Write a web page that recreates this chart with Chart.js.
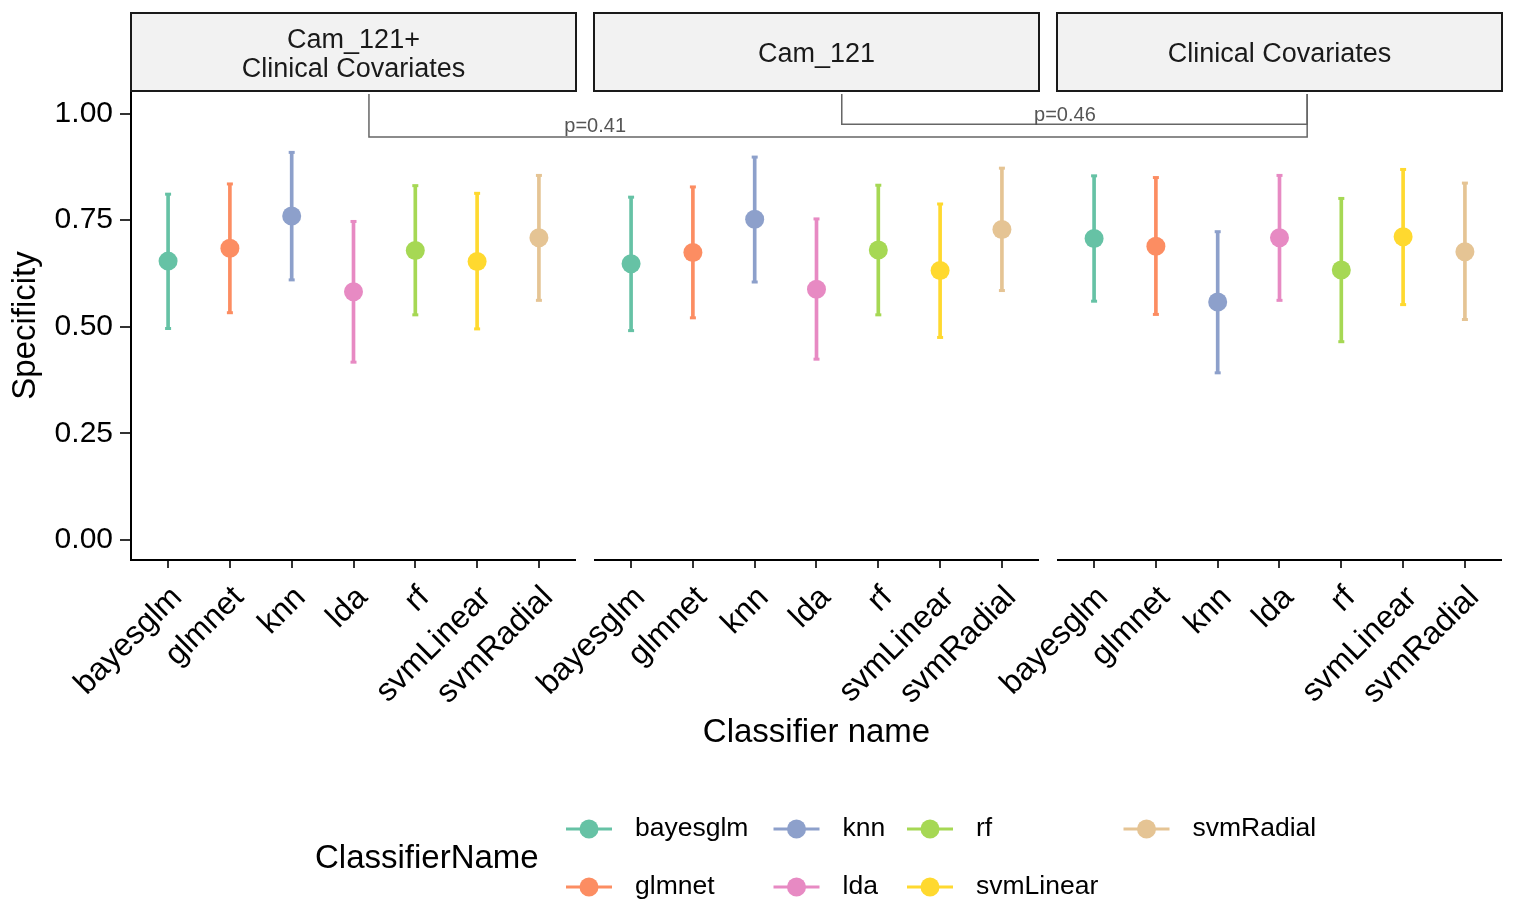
<!DOCTYPE html>
<html>
<head>
<meta charset="utf-8">
<script src="https://cdn.jsdelivr.net/npm/chart.js@4"></script>
<style>
  html, body { margin: 0; padding: 0; background: #ffffff; }
  #wrap { position: relative; width: 1526px; height: 910px; }
  canvas { display: block; }
</style>
</head>
<body>
<div id="wrap"><canvas id="chart" width="1526" height="910"></canvas></div>
<script>
// Classifiers and facet panels
const classifiers = ['bayesglm', 'glmnet', 'knn', 'lda', 'rf', 'svmLinear', 'svmRadial'];
const panelTitles = [['Cam_121+', 'Clinical Covariates'], ['Cam_121'], ['Clinical Covariates']];
const classifierColors = ['#66c2a5', '#fc8d62', '#8da0cb', '#e78ac3', '#a6d854', '#ffd92f', '#e5c494'];

// Specificity: mean and interval per classifier, one set per panel
const meanCamClinical  = [0.654, 0.684, 0.760, 0.582, 0.679, 0.653, 0.709];
const lowerCamClinical = [0.496, 0.533, 0.610, 0.417, 0.528, 0.495, 0.562];
const upperCamClinical = [0.811, 0.835, 0.909, 0.747, 0.831, 0.813, 0.855];

const meanCam  = [0.648, 0.674, 0.752, 0.588, 0.680, 0.632, 0.728];
const lowerCam = [0.491, 0.521, 0.605, 0.424, 0.528, 0.475, 0.585];
const upperCam = [0.804, 0.828, 0.898, 0.753, 0.832, 0.788, 0.872];

const meanClinical  = [0.707, 0.689, 0.558, 0.709, 0.633, 0.711, 0.676];
const lowerClinical = [0.560, 0.529, 0.392, 0.562, 0.465, 0.552, 0.517];
const upperClinical = [0.854, 0.850, 0.723, 0.855, 0.801, 0.869, 0.837];

const yTickValues = [0, 0.25, 0.5, 0.75, 1.0];

// Comparison brackets (x in axis units across the three panels)
const bracketFrom   = [4.25, 11.90];
const bracketTo     = [19.43, 19.43];
const bracketLevel  = [0.945, 0.975];
const pValueLabels  = ['p=0.41', 'p=0.46'];
const pValueX       = [7.91, 15.51];
const pValueY       = [0.957, 0.982];

// Panel arithmetic: each panel spans 7 categories plus 0.6 expansion on each side
const means  = [meanCamClinical, meanCam, meanClinical];
const lowers = [lowerCamClinical, lowerCam, lowerClinical];
const uppers = [upperCamClinical, upperCam, upperClinical];
const PANEL_SPAN = 7.2;
const PANEL_GAP = 0.2912;
const panelOffset = p => p * (PANEL_SPAN + PANEL_GAP);
const xMin = 0.4;
const xMax = 0.4 + 3 * PANEL_SPAN + 2 * PANEL_GAP;
const tickPositions = [];
for (let p = 0; p < 3; p++) for (let i = 0; i < classifiers.length; i++) tickPositions.push(panelOffset(p) + i + 1);

const FONT = "'Liberation Sans', Arial, Helvetica, sans-serif";
Chart.defaults.font.family = FONT;
Chart.defaults.color = '#000000';

const datasets = [];
classifiers.forEach((name, i) => {
  const pts = [], bars = [], caps = [];
  for (let p = 0; p < 3; p++) {
    const x = panelOffset(p) + i + 1;
    pts.push({ x, y: means[p][i] });
    bars.push({ x, y: [lowers[p][i], uppers[p][i]] });
    caps.push({ x, y: lowers[p][i] }, { x, y: uppers[p][i] });
  }
  datasets.push({
    type: 'bar', label: name + ' interval', data: bars, grouped: false,
    barThickness: 3, backgroundColor: classifierColors[i], borderWidth: 0, order: 2
  });
  datasets.push({
    type: 'scatter', label: name + ' caps', data: caps, pointStyle: 'line',
    pointRadius: 3, pointBorderWidth: 3, borderColor: classifierColors[i],
    backgroundColor: classifierColors[i], order: 2
  });
  datasets.push({
    type: 'scatter', label: name, data: pts, pointStyle: 'circle',
    pointRadius: 9.5, pointBorderWidth: 0, backgroundColor: classifierColors[i],
    borderColor: classifierColors[i], order: 1
  });
});

const facetPlugin = {
  id: 'facetDecor',
  afterDraw(chart) {
    const { ctx, chartArea, scales } = chart;
    const x = scales.x, y = scales.y;
    ctx.save();

    // panel x-axis lines
    ctx.strokeStyle = '#000000';
    ctx.lineWidth = 2;
    for (let p = 0; p < 3; p++) {
      const a = x.getPixelForValue(panelOffset(p) + 0.4);
      const b = x.getPixelForValue(panelOffset(p) + 7.6);
      ctx.beginPath();
      ctx.moveTo(a, chartArea.bottom);
      ctx.lineTo(b, chartArea.bottom);
      ctx.stroke();
    }

    // strips
    const stripTop = 13, stripBottom = chartArea.top;
    for (let p = 0; p < 3; p++) {
      const a = x.getPixelForValue(panelOffset(p) + 0.4);
      const b = x.getPixelForValue(panelOffset(p) + 7.6);
      ctx.fillStyle = '#f2f2f2';
      ctx.fillRect(a, stripTop, b - a, stripBottom - stripTop);
      ctx.strokeStyle = '#1a1a1a';
      ctx.lineWidth = 2;
      ctx.strokeRect(a, stripTop, b - a, stripBottom - stripTop);
      ctx.fillStyle = '#1a1a1a';
      ctx.font = '27px ' + FONT;
      ctx.textAlign = 'center';
      ctx.textBaseline = 'middle';
      const lines = panelTitles[p];
      const mid = (stripTop + stripBottom) / 2 + 3;
      const lh = 29;
      lines.forEach((t, k) => {
        ctx.fillText(t, (a + b) / 2, mid + (k - (lines.length - 1) / 2) * lh);
      });
    }

    // comparison brackets
    ctx.strokeStyle = '#666666';
    ctx.lineWidth = 1.5;
    const topPx = chartArea.top + 3;
    for (let k = 0; k < bracketFrom.length; k++) {
      const x0 = x.getPixelForValue(bracketFrom[k]);
      const x1 = x.getPixelForValue(bracketTo[k]);
      const yy = y.getPixelForValue(bracketLevel[k]);
      ctx.beginPath();
      ctx.moveTo(x0, topPx);
      ctx.lineTo(x0, yy);
      ctx.lineTo(x1, yy);
      ctx.lineTo(x1, topPx);
      ctx.stroke();
    }
    ctx.fillStyle = '#555555';
    ctx.font = '20px ' + FONT;
    ctx.textAlign = 'center';
    ctx.textBaseline = 'alphabetic';
    for (let k = 0; k < pValueLabels.length; k++) {
      ctx.fillText(pValueLabels[k], x.getPixelForValue(pValueX[k]), y.getPixelForValue(pValueY[k]));
    }

    // legend
    ctx.fillStyle = '#000000';
    ctx.font = '33px ' + FONT;
    ctx.textAlign = 'left';
    ctx.textBaseline = 'middle';
    ctx.fillText('ClassifierName', 315, 859);
    const colCenters = [589, 796.5, 930, 1146.5];
    const rowCenters = [829, 887];
    ctx.font = '26.5px ' + FONT;
    classifiers.forEach((name, i) => {
      const cx = colCenters[Math.floor(i / 2)];
      const cy = rowCenters[i % 2];
      ctx.strokeStyle = classifierColors[i];
      ctx.lineWidth = 3;
      ctx.beginPath();
      ctx.moveTo(cx - 23, cy);
      ctx.lineTo(cx + 23, cy);
      ctx.stroke();
      ctx.fillStyle = classifierColors[i];
      ctx.beginPath();
      ctx.arc(cx, cy, 9.5, 0, Math.PI * 2);
      ctx.fill();
      ctx.fillStyle = '#000000';
      ctx.fillText(name, cx + 46, cy);
    });
    ctx.restore();
  }
};

new Chart(document.getElementById('chart'), {
  type: 'scatter',
  data: { datasets },
  plugins: [facetPlugin],
  options: {
    responsive: false,
    animation: false,
    devicePixelRatio: 1,
    layout: { padding: { left: 0, right: 24, top: 91, bottom: 157 } },
    plugins: { legend: { display: false }, tooltip: { enabled: false } },
    scales: {
      x: {
        type: 'linear', min: xMin, max: xMax, offset: false,
        afterBuildTicks: s => { s.ticks = tickPositions.map(v => ({ value: v })); },
        afterFit: s => { s.height = 193; },
        ticks: {
          autoSkip: false, minRotation: 45, maxRotation: 45, padding: 11, labelOffset: 9,
          color: '#000000', font: { size: 32 },
          callback: (v, idx) => classifiers[idx % classifiers.length]
        },
        grid: { offset: false, drawOnChartArea: false, drawTicks: true, tickLength: 8, color: '#333333', lineWidth: 2 },
        border: { display: false },
        title: { display: true, text: 'Classifier name', color: '#000000', font: { size: 33 }, padding: { top: 0, bottom: 0 } }
      },
      y: {
        type: 'linear', min: -0.047, max: 1.053,
        afterBuildTicks: s => { s.ticks = yTickValues.map(v => ({ value: v })); },
        afterFit: s => { s.width = 131; },
        ticks: { color: '#000000', font: { size: 30 }, padding: 7, callback: v => Number(v).toFixed(2) },
        grid: { drawOnChartArea: false, drawTicks: true, tickLength: 11, color: '#333333', lineWidth: 2 },
        border: { display: true, color: '#000000', width: 2 },
        title: { display: true, text: 'Specificity', color: '#000000', font: { size: 33 }, padding: { top: 6, bottom: 0 } }
      }
    }
  }
});
</script>
</body>
</html>
